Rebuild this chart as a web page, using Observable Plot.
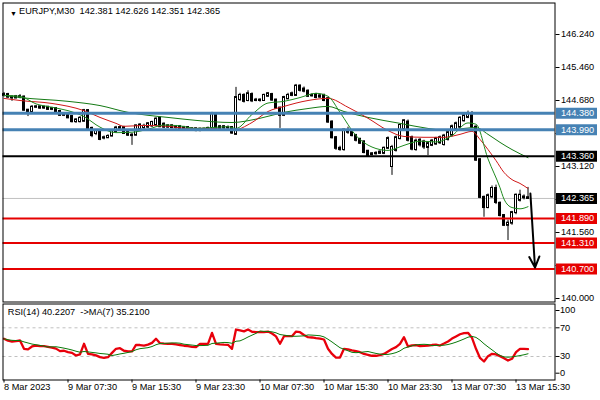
<!DOCTYPE html>
<html><head><meta charset="utf-8">
<script src="https://cdn.jsdelivr.net/npm/d3@7"></script>
<script src="https://cdn.jsdelivr.net/npm/@observablehq/plot@0.6"></script>
<style>
html,body{margin:0;padding:0;background:#fff;}
#chart{width:600px;height:400px;overflow:hidden;}
#chart svg{display:block;}
</style></head>
<body><div id="chart"></div>
<script>
// ---------- data ----------
const symbol = "EURJPY,M30";

const open = [
144.80,144.82,144.76,144.74,144.77,144.76,144.45,144.42,144.52,144.53,
144.50,144.52,144.47,144.49,144.42,144.33,144.35,144.30,144.18,144.18,
144.19,144.44,144.02,143.90,143.95,143.79,143.80,143.84,143.94,144.02,
144.04,143.92,143.86,143.86,144.00,144.04,144.05,144.08,144.10,144.26,
144.12,144.05,144.08,144.04,144.06,144.02,144.04,143.99,144.01,143.97,
144.00,143.98,144.04,144.35,144.02,144.06,144.03,144.04,143.88,144.70,
144.80,144.68,144.82,144.68,144.69,144.68,144.78,144.82,144.69,144.50,
144.33,144.72,144.80,144.80,145.02,144.95,144.90,144.79,144.82,144.76,
144.80,144.72,144.17,143.80,143.55,143.52,143.96,143.95,143.85,143.76,
143.70,143.48,143.40,143.42,143.43,143.43,143.55,143.12,143.50,143.78,
144.00,144.17,143.80,143.52,143.74,143.70,143.57,143.62,143.65,143.68,
143.64,143.76,143.86,144.00,144.05,144.20,144.28,144.33,144.05,143.28,
142.39,142.15,142.40,142.60,142.25,141.96,141.73,141.78,142.03,142.32,
142.38,142.381];
const high = [
144.87,144.85,144.79,144.80,144.82,144.79,144.47,144.56,144.56,144.55,
144.55,144.54,144.52,144.51,144.45,144.38,144.38,144.33,144.25,144.30,
144.47,144.46,144.05,143.99,143.99,143.84,143.87,143.99,144.07,144.08,
144.07,143.95,143.90,144.10,144.13,144.12,144.16,144.19,144.27,144.29,
144.15,144.11,144.11,144.09,144.09,144.07,144.06,144.04,144.03,144.03,
144.03,144.05,144.40,144.38,144.09,144.08,144.08,144.06,144.99,144.85,
144.84,144.91,144.86,144.73,144.72,144.83,144.87,144.85,144.71,144.52,
144.78,144.85,144.88,145.06,145.05,145.00,144.93,144.84,144.85,144.83,
144.83,144.75,144.20,143.83,143.60,144.00,144.05,143.98,143.88,143.79,
143.73,143.50,143.45,143.47,143.49,143.58,143.82,143.62,143.84,144.12,
144.23,144.22,143.84,143.77,143.78,143.74,143.70,143.76,143.81,143.84,
143.88,143.96,144.10,144.17,144.30,144.37,144.43,144.42,144.08,143.30,
142.42,142.47,142.66,142.68,142.28,141.98,141.85,142.06,142.47,142.56,
142.45,142.626];
const low = [
144.76,144.73,144.66,144.72,144.72,144.43,144.30,144.40,144.49,144.47,
144.47,144.45,144.44,144.40,144.31,144.30,144.25,144.15,144.14,144.15,
144.17,143.98,143.80,143.85,143.73,143.75,143.78,143.82,143.91,143.99,
143.88,143.83,143.62,143.84,143.98,143.99,144.02,144.04,144.08,144.04,
144.02,144.02,144.01,144.00,143.99,143.98,143.96,143.95,143.94,143.94,
143.95,143.96,144.01,143.98,143.99,144.00,144.00,143.88,143.86,144.66,
144.62,144.65,144.63,144.65,144.64,144.66,144.76,144.66,144.47,144.02,
144.30,144.70,144.77,144.78,144.88,144.86,144.75,144.76,144.72,144.73,
144.65,144.14,143.77,143.50,143.48,143.48,143.88,143.82,143.70,143.64,
143.42,143.35,143.37,143.39,143.41,143.40,143.52,142.91,143.46,143.75,
143.96,143.70,143.49,143.48,143.58,143.52,143.38,143.59,143.62,143.64,
143.60,143.72,143.82,143.96,144.02,144.17,144.25,144.02,143.24,142.36,
141.92,142.12,142.37,142.22,141.93,141.70,141.37,141.73,141.98,142.28,
142.33,142.351];
const close = [
144.82,144.76,144.74,144.77,144.76,144.45,144.40,144.52,144.53,144.50,
144.52,144.47,144.49,144.42,144.33,144.35,144.27,144.18,144.22,144.26,
144.44,144.02,143.85,143.95,143.76,143.80,143.83,143.96,144.03,144.04,
143.90,143.86,143.85,144.08,144.10,144.07,144.13,144.16,144.24,144.06,
144.05,144.08,144.04,144.06,144.02,144.04,143.99,144.01,143.97,144.00,
143.98,144.02,144.35,144.02,144.06,144.03,144.04,143.91,144.75,144.80,
144.66,144.84,144.67,144.69,144.68,144.80,144.84,144.69,144.50,144.33,
144.75,144.80,144.84,145.02,144.92,144.90,144.78,144.80,144.75,144.79,
144.68,144.17,143.80,143.55,143.52,143.98,143.93,143.85,143.74,143.67,
143.45,143.38,143.42,143.43,143.46,143.55,143.78,143.57,143.80,144.09,
144.20,143.74,143.53,143.72,143.63,143.58,143.66,143.72,143.78,143.80,
143.84,143.92,144.06,144.13,144.26,144.32,144.35,144.05,143.27,142.39,
142.15,142.43,142.60,142.27,141.96,141.73,141.78,142.03,142.44,142.44,
142.40,142.365];

// moving averages (bar index, price)
const maFastBars = [0,4,8,12,16,20,24,28,32,36,40,44,48,52,56,58,62,66,70,74,78,81,84,88,92,96,100,104,108,112,116,118,121,124,125,127,129,131];
const maFastVals = [144.80,144.78,144.60,144.52,144.44,144.30,144.05,143.92,143.93,144.00,144.10,144.08,144.02,144.04,144.06,144.02,144.35,144.62,144.66,144.75,144.85,144.78,144.40,143.85,143.58,143.50,143.62,143.72,143.70,143.85,144.15,144.12,143.30,142.62,142.35,142.15,142.12,142.17];
const maMidBars = [0,4,12,20,24,28,30,35,41,46,52,57,62,66,70,76,81,86,91,96,100,105,110,114,117,119,121,123,125,127,129,131];
const maMidVals = [144.73,144.68,144.61,144.44,144.28,144.14,144.07,144.09,144.07,144.02,144.02,143.97,144.16,144.42,144.54,144.68,144.73,144.52,144.26,143.97,143.83,143.81,143.81,143.88,143.95,143.76,143.52,143.26,142.98,142.81,142.72,142.60];
const maSlowBars = [0,4,16,24,31,36,41,48,57,64,70,76,81,85,91,99,106,111,115,118,121,124,127,131];
const maSlowVals = [144.80,144.75,144.66,144.56,144.40,144.33,144.28,144.21,144.16,144.26,144.40,144.49,144.54,144.42,144.28,144.14,144.02,143.97,144.02,144.04,143.88,143.69,143.52,143.33];

// horizontal levels
const levelPrices = [144.380, 143.990, 143.360, 141.890, 141.310, 140.700];
const levelKinds  = ["resistance","resistance","pivot","support","support","support"];

// price axis ticks
const priceTicks = [140.000,140.780,141.560,142.340,143.120,143.900,144.680,145.460,146.240];

// projected move (arrow)
const arrowFrom = {bar: 131.6, price: 142.48};
const arrowTo   = {bar: 132.75, price: 140.73};

// RSI(14)
const rsi = [
54.7,52,50.9,51.5,52.3,40.7,40,44,45.3,44.5,
44.4,43.5,42.5,41,37.5,38,36,35,31.4,33,
47.7,33.7,33,31.5,29.1,28,29,35,40.7,41.6,
38,37,37,46.3,46,45.3,46.5,49,54.7,48.5,
48,47.7,47.7,47,46,45,44.4,43.5,43,47.7,
47.7,47.7,63,47.7,47,46.5,46.3,40.7,67.6,66.5,
65,67.6,64.5,64,63.9,63.9,64.8,62,58,47.7,
58.3,58.3,58.3,64.8,63.9,60,56.9,56.5,55.5,55,
53.7,40.7,33.5,28.5,28.5,40.7,40,38.5,37.5,36,
33.5,32.4,31,31,32,33.5,37,40.5,43,47.7,
56.9,44,45.5,45.8,44.4,44.8,45.3,46,46.5,45.3,
48,50.9,55,58,61,62.5,63,56,40.7,28,
23,30.5,33.7,33,30.5,27.7,24.4,26.8,36,40.7,
40.7,40.22];
const rsiPeriod = 14, rsiMaPeriod = 7;
const rsiNow = 40.2207, rsiMaNow = 35.2100;
const rsiLevels = [70, 30];

// time axis
const timeBars = [0,16,32,48,64,80,96,112,128];
const timeLabels = ["8 Mar 2023","9 Mar 07:30","9 Mar 15:30","9 Mar 23:30","10 Mar 07:30","10 Mar 15:30","10 Mar 23:30","13 Mar 07:30","13 Mar 15:30"];

// ---------- build ----------
const FONT = "'Liberation Sans', Arial, sans-serif";
const fmt = d => d.toFixed(3);
const bars = d3.range(close.length).map(i => ({bar: i, open: open[i], high: high[i], low: low[i], close: close[i]}));
const last = bars[bars.length - 1];
const titleText = `${symbol}\u00a0\u00a0${fmt(last.open)} ${fmt(last.high)} ${fmt(last.low)} ${fmt(last.close)}`;
const pts = (b, v) => b.map((bar, i) => ({bar, price: v[i]}));

const kindColor = {resistance: "#4682b4", pivot: "#000000", support: "#e60000"};
const kindWidth = {resistance: 3, pivot: 2, support: 2};
const levels = levelPrices.map((p, i) => ({price: p, kind: levelKinds[i]}));
const tags = [...levels.map(l => ({price: l.price, color: kindColor[l.kind]})), {price: last.close, color: "#000000"}];

// price tick labels hidden where a coloured price tag sits on top of them
const yRangePx = [298, 34], yDom = [140, 146.24];
const pxPerUnit = (yRangePx[0] - yRangePx[1]) / (yDom[1] - yDom[0]);
const covered = t => tags.some(g => Math.abs(g.price - t) * pxPerUnit < 9.5);
const tickText = t => covered(t) ? "" : fmt(t);

const xOpt = {domain: [0, 131], range: [3.5, 527.5], axis: null};
const style = {background: "#fff", color: "#000", fontFamily: FONT, fontSize: "9.2px", overflow: "visible"};

const main = Plot.plot({
  width: 600, height: 302,
  marginLeft: 2.5, marginRight: 45.5, marginTop: 2.5, marginBottom: 0.5,
  x: xOpt,
  y: {domain: yDom, range: yRangePx},
  style,
  marks: [
    Plot.ruleY([last.close], {y: d => d, stroke: "#c0c0c0", strokeWidth: 1}),
    Plot.ruleX(bars, {x: "bar", y1: "low", y2: "high", stroke: "#000", strokeWidth: 1}),
    Plot.rect(bars, {x1: d => d.bar - 0.25, x2: d => d.bar + 0.25, y1: "open", y2: "close",
      fill: d => d.close >= d.open ? "#ffffff" : "#000000", stroke: "#000000", strokeWidth: 1,
      insetTop: -0.5, insetBottom: -0.5}),
    Plot.line(pts(maSlowBars, maSlowVals), {x: "bar", y: "price", stroke: "#147a14", strokeWidth: 1, curve: "monotone-x"}),
    Plot.line(pts(maMidBars, maMidVals), {x: "bar", y: "price", stroke: "#d01818", strokeWidth: 1, curve: "monotone-x"}),
    Plot.line(pts(maFastBars, maFastVals), {x: "bar", y: "price", stroke: "#1f8a1f", strokeWidth: 1, curve: "monotone-x"}),
    ...["resistance","pivot","support"].map(k =>
      Plot.ruleY(levels.filter(l => l.kind === k), {y: "price", stroke: kindColor[k], strokeWidth: kindWidth[k]})),
    Plot.arrow([{from: arrowFrom, to: arrowTo}], {x1: d => d.from.bar, y1: d => d.from.price, x2: d => d.to.bar, y2: d => d.to.price,
      stroke: "#000", strokeWidth: 2, headLength: 9, headAngle: 50}),
    Plot.frame({stroke: "#000"}),
    Plot.axisY({ticks: priceTicks, anchor: "right", tickSize: 4, tickPadding: 2, tickFormat: tickText, label: null}),
    Plot.ruleY(tags, {y: "price", stroke: "color", strokeWidth: 11, insetLeft: 553.5, insetRight: -42.5}),
    Plot.text(tags, {y: "price", text: d => fmt(d.price), frameAnchor: "right", textAnchor: "start", dx: 6, fill: "#ffffff"}),
    Plot.text(["\u25BC"], {text: d => d, frameAnchor: "top-left", dx: 7, dy: 8.5, fontSize: 7, fill: "#000"}),
    Plot.text([titleText], {text: d => d, frameAnchor: "top-left", textAnchor: "start", lineAnchor: "top", dx: 16, dy: 4.5, fill: "#000"})
  ]
});

const rsiRows = rsi.map((v, i) => {
  const from = Math.max(0, i - rsiMaPeriod + 1);
  return {bar: i, rsi: v, ma: d3.mean(rsi.slice(from, i + 1))};
});
const rsiLabel = `RSI(${rsiPeriod}) ${rsiNow.toFixed(4)}\u00a0\u00a0->MA(${rsiMaPeriod}) ${rsiMaNow.toFixed(4)}`;

const lower = Plot.plot({
  width: 600, height: 98,
  marginLeft: 2.5, marginRight: 45.5, marginTop: 1.5, marginBottom: 20.5,
  x: xOpt,
  y: {domain: [0, 100], range: [75.5, 3.8]},
  style,
  marks: [
    Plot.ruleY(rsiLevels, {y: d => d, stroke: "#c0c0c0", strokeWidth: 1, strokeDasharray: "3,3"}),
    Plot.line(rsiRows, {x: "bar", y: "rsi", stroke: "#e8000b", strokeWidth: 2.3}),
    Plot.line(rsiRows, {x: "bar", y: "ma", stroke: "#0a7a0a", strokeWidth: 1}),
    Plot.frame({stroke: "#000"}),
    Plot.axisX({ticks: timeBars, tickFormat: d => timeLabels[timeBars.indexOf(d)], anchor: "bottom",
      tickSize: 3, tickPadding: 0, textAnchor: "start", label: null}),
    Plot.axisY({ticks: [70, 30], anchor: "right", tickSize: 4, tickPadding: 1, label: null}),
    Plot.axisY({ticks: [100], anchor: "right", tickSize: 4, tickPadding: 1, label: null, dy: 4.2}),
    Plot.axisY({ticks: [0], anchor: "right", tickSize: 4, tickPadding: 1, label: null, dy: -4.8}),
    Plot.text([rsiLabel], {text: d => d, frameAnchor: "top-left", textAnchor: "start", lineAnchor: "top", dx: 4.8, dy: 4.8, fill: "#000"})
  ]
});

const root = document.getElementById("chart");
root.appendChild(main);
root.appendChild(lower);
</script>
</body></html>
